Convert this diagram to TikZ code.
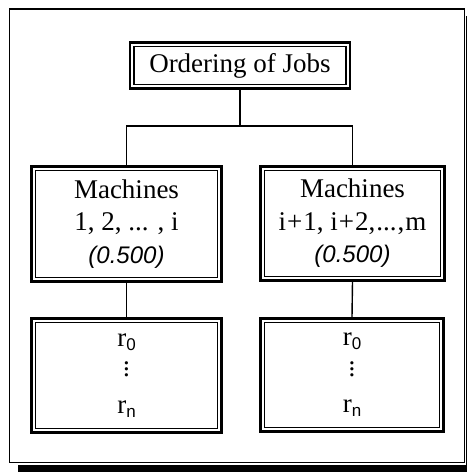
\documentclass[tikz,border=0pt]{standalone}
\usepackage{fontspec}
\setmainfont{Liberation Serif}
\setsansfont{Liberation Sans}
\newfontfamily\lsans{Liberation Sans}
\newcommand\mydots{\vbox{\baselineskip6pt\lineskiplimit0pt\hbox{.}\hbox{.}\hbox{.}}}
\begin{document}
\begin{tikzpicture}[x=1pt,y=-1pt,
  box/.style={draw, line width=2.2pt, inner sep=0pt, align=center,
    font=\fontsize{27}{32.5}\selectfont},
  innerbox/.style={draw, line width=1.3pt},
  conn/.style={draw, line width=1.4pt},
  frame/.style={draw, line width=1.8pt}]
\useasboundingbox (0,0) rectangle (467,472);
% outer frame and shadow
\fill (18,465) rectangle (467,472);
\fill (466,16) rectangle (467,472);
\draw[frame] (9.5,9) rectangle (464.5,462.5);
% nodes
\node[box, minimum width=220pt, minimum height=46pt] (top) at (240,65.5) {Ordering of Jobs};
\node[box, minimum width=190pt, minimum height=115pt] (lm) at (126.5,224)
  {Machines\\1, 2, ... , i\\{\lsans\itshape\fontsize{24}{32.5}\selectfont (0.500)}};
\node[box, minimum width=184pt, minimum height=114pt] (rm) at (352.5,223.5)
  {Machines\\i\kern1pt+\kern1pt1, i\kern1pt+\kern1pt2,\kern1pt...\kern1pt,\kern1pt m\\{\lsans\itshape\fontsize{24}{32.5}\selectfont (0.500)}};
\node[box, minimum width=190pt, minimum height=114pt] (lb) at (126.5,375.5)
  {r\raisebox{-4pt}{\sffamily\fontsize{17}{17}\selectfont 0}\\[-2pt]\mydots\\[4pt]r\raisebox{-4pt}{\sffamily\fontsize{17}{17}\selectfont n}};
\node[box, minimum width=183pt, minimum height=113pt] (rb) at (352,375)
  {r\raisebox{-4pt}{\sffamily\fontsize{17}{17}\selectfont 0}\\[-2pt]\mydots\\[4pt]r\raisebox{-4pt}{\sffamily\fontsize{17}{17}\selectfont n}};
% inner borders
\foreach \n in {top,lm,rm,lb,rb}{
  \draw[innerbox] ([shift={(5,5)}]\n.north west) rectangle ([shift={(-5,-5)}]\n.south east);
}
% connectors
\coordinate (bus) at (240,126);
\draw[conn] (top.south) -- (bus);
\draw[conn] (lm.north) |- (bus) -| (rm.north);
\draw[conn] (lm.south) -- (lb.north);
\draw[conn] (rm.south) -- (rb.north);
\end{tikzpicture}
\end{document}
